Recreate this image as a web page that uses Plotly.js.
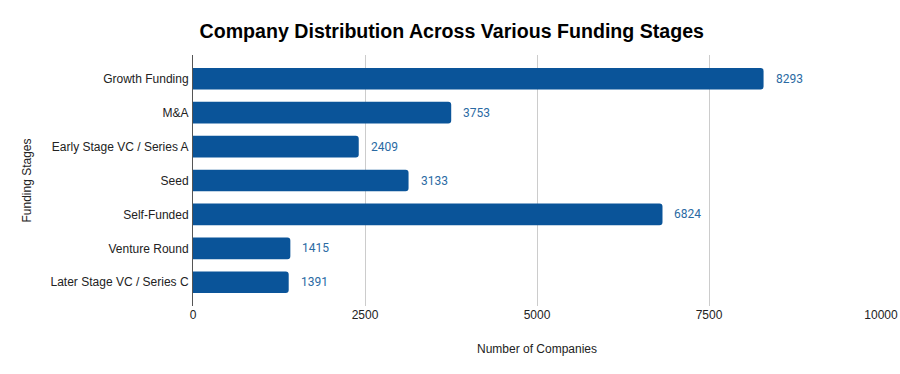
<!DOCTYPE html>
<html>
<head>
<meta charset="utf-8">
<script src="https://cdn.plot.ly/plotly-3.0.1.min.js"></script>
<style>html,body{margin:0;padding:0;background:#fff;}#chart{width:900px;height:374px;}</style>
</head>
<body>
<div id="chart"></div>
<script>
var categories = ["Growth Funding", "M&A", "Early Stage VC / Series A", "Seed", "Self-Funded", "Venture Round", "Later Stage VC / Series C"];
var companies = [8293, 3753, 2409, 3133, 6824, 1415, 1391];
var xTicks = [0, 2500, 5000, 7500, 10000];

var trace = {
  type: "bar",
  orientation: "h",
  y: categories,
  x: companies,
  width: 0.64,
  marker: {color: "#0a5499", cornerradius: 3},
  hoverinfo: "none"
};

var annotations = categories.map(function(c, i) {
  return {
    x: companies[i], y: c, xref: "x", yref: "y",
    text: String(companies[i]), showarrow: false,
    xanchor: "left", xshift: 10,
    font: {family: "Roboto, 'Liberation Sans', Arial, sans-serif", size: 12, color: "#2a6aa3"}
  };
});

var layout = {
  width: 900, height: 374,
  margin: {l: 193, r: 19, t: 55, b: 68},
  paper_bgcolor: "#fff", plot_bgcolor: "#fff",
  showlegend: false,
  title: {
    text: "<b>Company Distribution Across Various Funding Stages</b>",
    x: 0.502, xanchor: "center", y: 0.918, yanchor: "middle",
    font: {family: "'Liberation Sans', Arial, sans-serif", size: 19.6, color: "#000"}
  },
  xaxis: {
    range: [0, 10000],
    tickvals: xTicks,
    ticktext: xTicks.map(String),
    showgrid: true, gridcolor: "#cccccc", gridwidth: 1,
    zeroline: false, showline: false,
    ticks: "", ticklen: 0,
    tickfont: {family: "'Liberation Sans', Arial, sans-serif", size: 12, color: "#222"},
    title: {text: "Number of Companies", standoff: 23,
      font: {family: "'Liberation Sans', Arial, sans-serif", size: 12, color: "#222"}},
    fixedrange: true
  },
  yaxis: {
    type: "category",
    categoryorder: "array", categoryarray: categories,
    range: [6.7, -0.7],
    showgrid: false, zeroline: false,
    showline: true, linecolor: "#555", linewidth: 1,
    ticks: "", ticklen: 0,
    ticklabelstandoff: 1,
    tickfont: {family: "'Liberation Sans', Arial, sans-serif", size: 12, color: "#222"},
    title: {text: "Funding Stages", standoff: 16,
      font: {family: "'Liberation Sans', Arial, sans-serif", size: 12, color: "#222"}},
    fixedrange: true
  },
  annotations: annotations
};

Plotly.newPlot("chart", [trace], layout, {displayModeBar: false, staticPlot: true});
</script>
</body>
</html>
